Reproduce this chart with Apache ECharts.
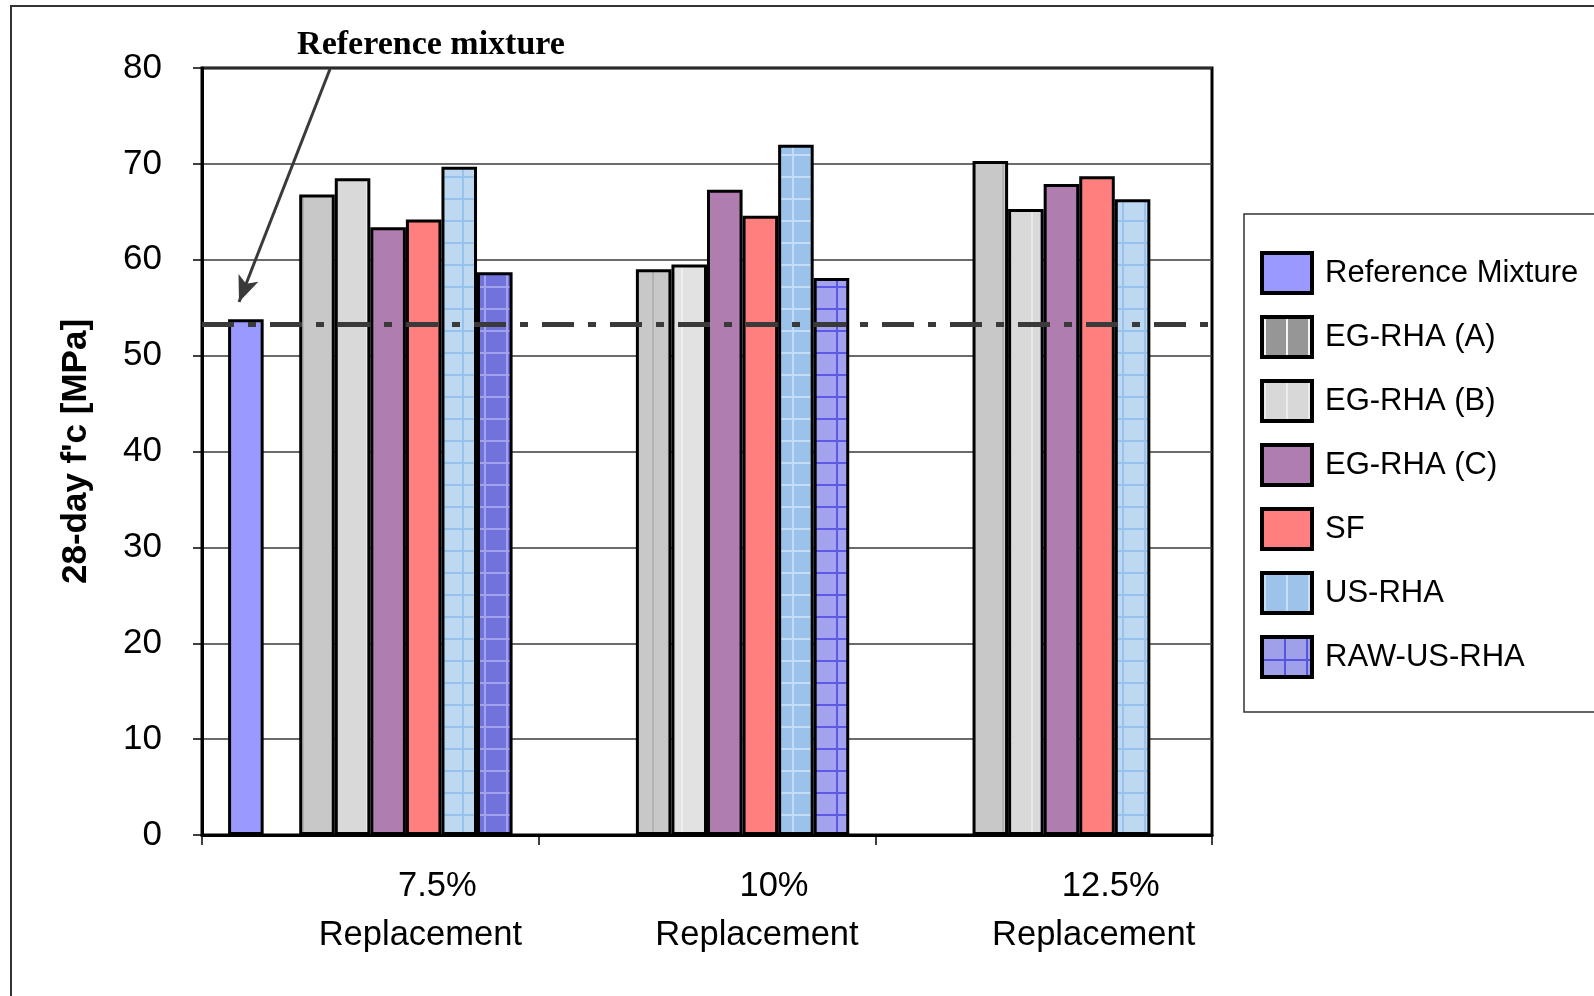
<!DOCTYPE html>
<html><head><meta charset="utf-8">
<script src="https://cdn.jsdelivr.net/npm/echarts@6/dist/echarts.min.js"></script>
<style>html,body{margin:0;padding:0;background:#fff}#c{width:1594px;height:996px}</style>
</head><body><div id="c"></div>
<script>
// ---- data ----
const categories = ['7.5%', '10%', '12.5%'];
const categorySubLabel = 'Replacement';
const seriesNames = ['Reference Mixture', 'EG-RHA (A)', 'EG-RHA (B)', 'EG-RHA (C)', 'SF', 'US-RHA', 'RAW-US-RHA'];
const refMixture = [53.8, null, null];
const egRhaA = [66.8, 59.0, 70.3];
const egRhaB = [68.5, 59.5, 65.3];
const egRhaC = [63.4, 67.3, 67.9];
const sf = [64.2, 64.6, 68.7];
const usRha = [69.7, 72.0, 66.3];
const rawUsRha = [58.7, 58.1, null];
const referenceLevel = 53.3;
const yMin = 0, yMax = 80, yInterval = 10;
const yAxisTitle = "28-day f'c [MPa]";
const annotationText = 'Reference mixture';

// ---- patterns ----
function stripes(bg, line, w, lx, lw) {
  const c = document.createElement('canvas'); c.width = w; c.height = 4;
  const g = c.getContext('2d'); g.fillStyle = bg; g.fillRect(0, 0, w, 4);
  g.fillStyle = line; g.fillRect(lx, 0, lw, 4);
  return { image: c, repeat: 'repeat' };
}
function gridPat(bg, line, s, lw) {
  const c = document.createElement('canvas'); c.width = s; c.height = s;
  const g = c.getContext('2d'); g.fillStyle = bg; g.fillRect(0, 0, s, s);
  g.fillStyle = line; g.fillRect(0, 0, lw, s); g.fillRect(0, 0, s, lw);
  return { image: c, repeat: 'repeat' };
}
const pA = stripes('#c8c8c8', '#b2b2b2', 35, 22, 2);
const pB = stripes('#d9d9d9', '#e9e9e9', 35, 16, 2);
const pB2 = stripes('#e2e2e2', '#eeeeee', 35, 16, 2);
const pUS = gridPat('#bed8f2', '#96c2ee', 22, 2);
const pUS2 = gridPat('#9ac2ea', '#c4ddf5', 22, 2);
const pRAW = gridPat('#7272dc', '#a2a2ee', 22, 2);
const pRAW2 = gridPat('#a2a2ee', '#5a5ae6', 22, 2);
const legA = stripes('#969696', '#f4f4f4', 22, 2, 2);
const legB = stripes('#d8d8d8', '#ececec', 22, 2, 2);
const legUS = stripes('#9dc3ea', '#c8e0f6', 22, 2, 2);
const legRAW = gridPat('#a0a0ea', '#5555e0', 22, 2);

const border = { borderColor: '#000', borderWidth: 3 };
function withColors(values, colors) {
  return values.map((v, i) => ({ value: v, itemStyle: { color: colors[i] } }));
}
function barSeries(name, data, color) {
  return { type: 'bar', name: name, data: data, itemStyle: Object.assign({ color: color }, border), barGap: '0%', barCategoryGap: '15.5%', z: 2 };
}

const series = [
  barSeries(seriesNames[0], refMixture, '#9999ff'),
  barSeries('spacer', [null, null, null], 'transparent'),
  barSeries(seriesNames[1], egRhaA, pA),
  barSeries(seriesNames[2], withColors(egRhaB, [pB, pB2, pB]), pB),
  barSeries(seriesNames[3], egRhaC, '#b07db0'),
  barSeries(seriesNames[4], sf, '#ff7f7f'),
  barSeries(seriesNames[5], withColors(usRha, [pUS, pUS2, pUS]), pUS),
  barSeries(seriesNames[6], withColors(rawUsRha, [pRAW, pRAW2, pRAW]), pRAW2),
  {
    type: 'line', name: 'refline', data: [], z: 10, silent: true,
    markLine: {
      silent: true, symbol: 'none', animation: false, label: { show: false },
      data: [
        { yAxis: referenceLevel, lineStyle: { color: '#3a3a3a', width: 5, type: [32, 14, 8, 14] } },
        [
          { x: 330, y: 69, symbol: 'none', lineStyle: { color: '#3a3a3a', width: 3, type: 'solid' } },
          { x: 239, y: 302, symbol: 'arrow', symbolSize: [16, 26] }
        ]
      ]
    }
  }
];

const legendStyles = [
  { color: '#9999ff' }, { color: legA }, { color: legB }, { color: '#b07db0' },
  { color: '#ff7f7f' }, { color: legUS }, { color: legRAW }
];

const chart = echarts.init(document.getElementById('c'), null, { renderer: 'canvas' });
chart.setOption({
  animation: false,
  backgroundColor: '#fff',
  textStyle: { fontFamily: 'Liberation Sans' },
  grid: { left: 202, right: 382, top: 68, bottom: 161, show: true, borderColor: '#000', borderWidth: 3, backgroundColor: 'transparent' },
  xAxis: {
    type: 'category', data: categories,
    axisLine: { lineStyle: { color: '#000', width: 3 } },
    axisTick: { show: true, length: 10, lineStyle: { color: '#000', width: 1.5 } },
    axisLabel: {
      margin: 27, color: '#000',
      formatter: v => '{a|' + v + '}\n{b|' + categorySubLabel + '}',
      rich: {
        a: { fontSize: 34.5, lineHeight: 49, padding: [0, 0, 0, 134], fontFamily: 'Liberation Sans', color: '#000' },
        b: { fontSize: 34.5, lineHeight: 49, padding: [0, 0, 0, 100], fontFamily: 'Liberation Sans', color: '#000' }
      }
    },
    splitLine: { show: false }
  },
  yAxis: {
    type: 'value', min: yMin, max: yMax, interval: yInterval,
    name: yAxisTitle, nameLocation: 'middle', nameGap: 108, nameRotate: 90,
    nameTextStyle: { fontSize: 35, fontWeight: 'bold', color: '#000', fontFamily: 'Liberation Sans' },
    axisLine: { show: true, lineStyle: { color: '#000', width: 3 } },
    axisTick: { show: true, length: 9, lineStyle: { color: '#000', width: 1.5 } },
    axisLabel: { fontSize: 35, color: '#000', margin: 40, fontFamily: 'Liberation Sans' },
    splitLine: { show: true, lineStyle: { color: '#3a3a3a', width: 1.5 } }
  },
  legend: {
    orient: 'vertical', left: 1244, top: 214,
    padding: [37, 120, 33, 16],
    itemWidth: 50, itemHeight: 40, itemGap: 20,
    icon: 'rect',
    borderColor: '#333', borderWidth: 1.5, backgroundColor: '#fff',
    textStyle: { fontSize: 31, color: '#000', fontFamily: 'Liberation Sans', padding: [0, 0, 0, 8] },
    itemStyle: { borderColor: '#000', borderWidth: 4 },
    data: seriesNames.map((n, i) => ({ name: n, itemStyle: Object.assign({ borderColor: '#000', borderWidth: 4 }, legendStyles[i]) })),
    selectedMode: false
  },
  graphic: [
    { type: 'polyline', silent: true, shape: { points: [[11, 996], [11, 6], [1594, 6]] }, style: { stroke: '#333', lineWidth: 2, fill: null } },
    { type: 'text', silent: true, x: 431, y: 45, style: { text: annotationText, font: 'bold 34px "Liberation Serif"', fill: '#000', align: 'center', verticalAlign: 'middle' } }
  ],
  series: series
});
</script>
</body></html>
